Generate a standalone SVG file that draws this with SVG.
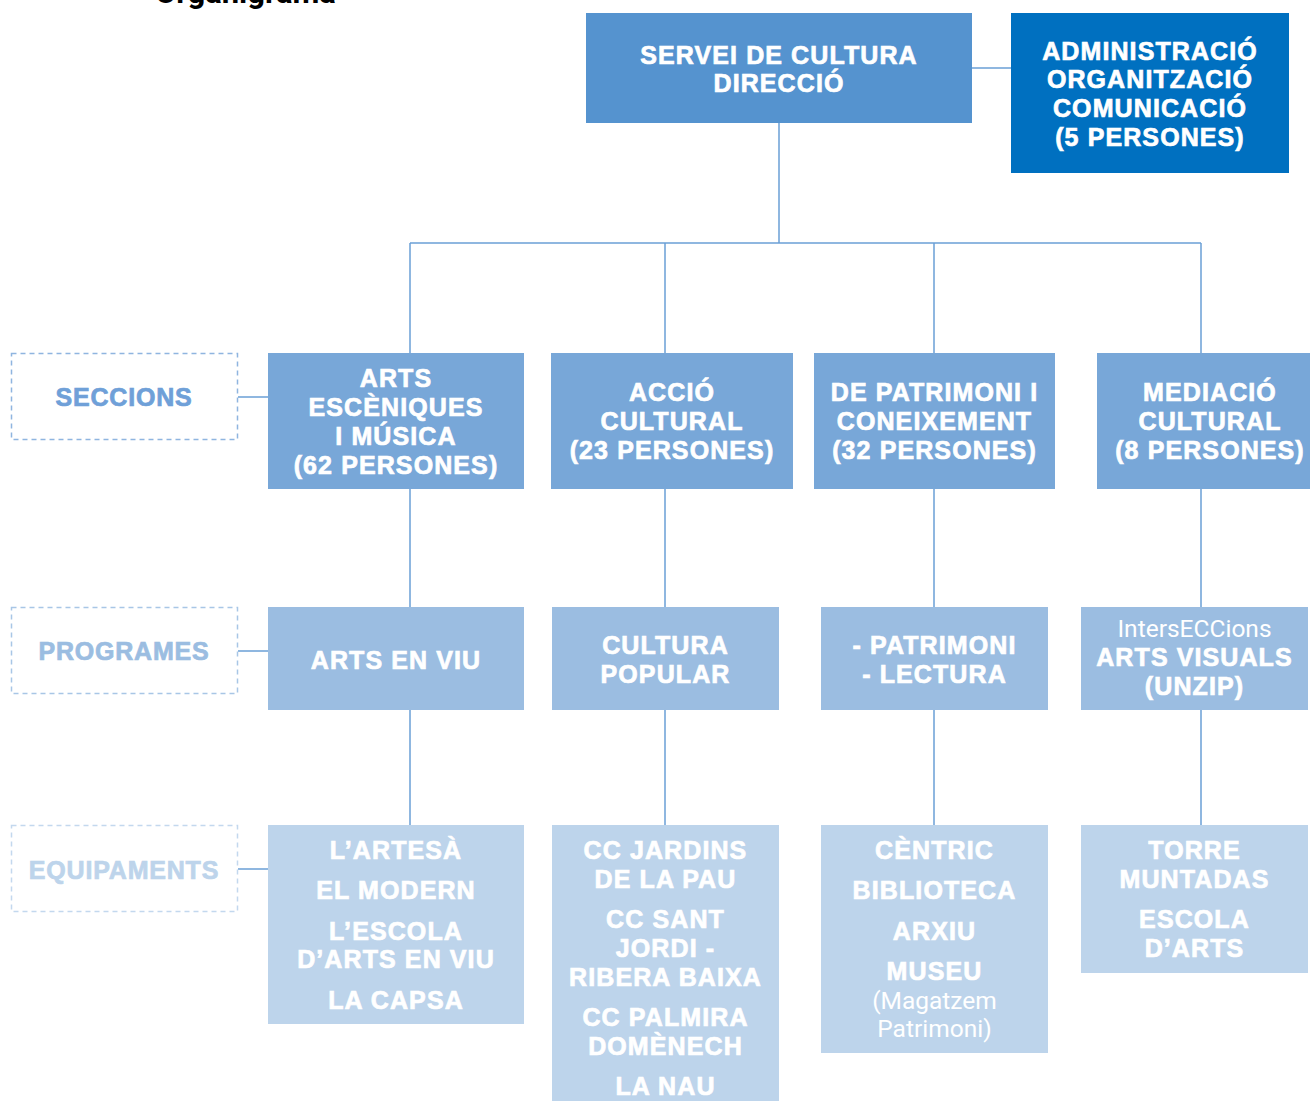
<svg xmlns="http://www.w3.org/2000/svg" width="1310" height="1101" viewBox="0 0 1310 1101">
<style>
.t{font-family:"Liberation Sans",Arial,sans-serif;font-weight:bold;font-size:25px;fill:#fff;stroke:#fff;stroke-width:0.7px;text-anchor:middle;letter-spacing:1.1px}
.r{font-family:Roboto,"Liberation Sans",sans-serif;font-weight:normal;font-size:24.5px;fill:#fff;text-anchor:middle}
.lbl{font-family:"Liberation Sans",Arial,sans-serif;font-weight:bold;font-size:25px;text-anchor:middle;letter-spacing:0.8px;stroke-width:0.7px}
.c{stroke:#6a9fd6;stroke-width:1.5;fill:none}
.dash{fill:#fff;stroke-width:1.5;stroke-dasharray:5 4}
.s1{fill:#78a7d8}.s2{fill:#9bbde1}.s3{fill:#bdd4eb}
</style>
<rect width="1310" height="1101" fill="#fff"/>
<text x="155" y="3" font-family="Roboto,Liberation Sans,Arial,sans-serif" font-weight="bold" font-size="31" fill="#000">Organigrama</text>
<g id="connectors">
<line class="c" x1="972" y1="68" x2="1011" y2="68"/>
<line class="c" x1="779" y1="123" x2="779" y2="243"/>
<line class="c" x1="410" y1="243" x2="1201" y2="243"/>
<line class="c" x1="410" y1="243" x2="410" y2="353"/>
<line class="c" x1="665" y1="243" x2="665" y2="353"/>
<line class="c" x1="934" y1="243" x2="934" y2="353"/>
<line class="c" x1="1201" y1="243" x2="1201" y2="353"/>
<line class="c" x1="410" y1="489" x2="410" y2="607"/>
<line class="c" x1="665" y1="489" x2="665" y2="607"/>
<line class="c" x1="934" y1="489" x2="934" y2="607"/>
<line class="c" x1="1201" y1="489" x2="1201" y2="607"/>
<line class="c" x1="410" y1="710" x2="410" y2="825"/>
<line class="c" x1="665" y1="710" x2="665" y2="825"/>
<line class="c" x1="934" y1="710" x2="934" y2="825"/>
<line class="c" x1="1201" y1="710" x2="1201" y2="825"/>
<line class="c" x1="238" y1="397" x2="268" y2="397"/>
<line class="c" x1="238" y1="651" x2="268" y2="651"/>
<line class="c" x1="238" y1="869" x2="268" y2="869"/>
</g>
<g id="direccio">
<rect x="586" y="13" width="386" height="110" fill="#5593cf"/>
<text class="t" x="779" y="64">SERVEI DE CULTURA</text>
<text class="t" x="779" y="92">DIRECCIÓ</text>
</g>
<g id="admin">
<rect x="1011" y="13" width="278" height="160" fill="#0070c0"/>
<text class="t" x="1150" y="60">ADMINISTRACIÓ</text>
<text class="t" x="1150" y="88">ORGANITZACIÓ</text>
<text class="t" x="1150" y="117">COMUNICACIÓ</text>
<text class="t" x="1150" y="146">(5 PERSONES)</text>
</g>
<g id="label-seccions">
<rect class="dash" x="11.5" y="353.5" width="226" height="86" stroke="#8fb5e0"/>
<text class="lbl" x="124" y="406" fill="#6fa0d8" stroke="#6fa0d8">SECCIONS</text>
</g>
<g id="label-programes">
<rect class="dash" x="11.5" y="607.5" width="226" height="86" stroke="#a8c6e6"/>
<text class="lbl" x="124" y="660" fill="#9bbde1" stroke="#9bbde1">PROGRAMES</text>
</g>
<g id="label-equipaments">
<rect class="dash" x="11.5" y="825.5" width="226" height="86" stroke="#c3d8ee"/>
<text class="lbl" x="124" y="879" fill="#bdd4eb" stroke="#bdd4eb">EQUIPAMENTS</text>
</g>
<g id="sec-arts">
<rect class="s1" x="268" y="353" width="256" height="136"/>
<text class="t" x="396" y="387">ARTS</text>
<text class="t" x="396" y="416">ESCÈNIQUES</text>
<text class="t" x="396" y="445">I MÚSICA</text>
<text class="t" x="396" y="474">(62 PERSONES)</text>
</g>
<g id="sec-accio">
<rect class="s1" x="551" y="353" width="242" height="136"/>
<text class="t" x="672" y="401">ACCIÓ</text>
<text class="t" x="672" y="430">CULTURAL</text>
<text class="t" x="672" y="459">(23 PERSONES)</text>
</g>
<g id="sec-patrimoni">
<rect class="s1" x="814" y="353" width="241" height="136"/>
<text class="t" x="934.5" y="401">DE PATRIMONI I</text>
<text class="t" x="934.5" y="430">CONEIXEMENT</text>
<text class="t" x="934.5" y="459">(32 PERSONES)</text>
</g>
<g id="sec-mediacio">
<rect class="s1" x="1097" y="353" width="213" height="136"/>
<text class="t" x="1210" y="401">MEDIACIÓ</text>
<text class="t" x="1210" y="430">CULTURAL</text>
<text class="t" x="1210" y="459">(8 PERSONES)</text>
</g>
<g id="prog-arts">
<rect class="s2" x="268" y="607" width="256" height="103"/>
<text class="t" x="396" y="669">ARTS EN VIU</text>
</g>
<g id="prog-cultura">
<rect class="s2" x="552" y="607" width="227" height="103"/>
<text class="t" x="665.5" y="654">CULTURA</text>
<text class="t" x="665.5" y="683">POPULAR</text>
</g>
<g id="prog-patrimoni">
<rect class="s2" x="821" y="607" width="227" height="103"/>
<text class="t" x="934.5" y="654">- PATRIMONI</text>
<text class="t" x="934.5" y="683">- LECTURA</text>
</g>
<g id="prog-intersec">
<rect class="s2" x="1081" y="607" width="227" height="103"/>
<text class="r" x="1194.5" y="637">IntersECCions</text>
<text class="t" x="1194.5" y="666">ARTS VISUALS</text>
<text class="t" x="1194.5" y="695">(UNZIP)</text>
</g>
<g id="eq-arts">
<rect class="s3" x="268" y="825" width="256" height="199"/>
<text class="t" x="396" y="859">L’ARTESÀ</text>
<text class="t" x="396" y="899">EL MODERN</text>
<text class="t" x="396" y="940">L’ESCOLA</text>
<text class="t" x="396" y="968">D’ARTS EN VIU</text>
<text class="t" x="396" y="1009">LA CAPSA</text>
</g>
<g id="eq-cc">
<rect class="s3" x="552" y="825" width="227" height="276"/>
<text class="t" x="665.5" y="859">CC JARDINS</text>
<text class="t" x="665.5" y="888">DE LA PAU</text>
<text class="t" x="665.5" y="928">CC SANT</text>
<text class="t" x="665.5" y="957">JORDI -</text>
<text class="t" x="665.5" y="986">RIBERA BAIXA</text>
<text class="t" x="665.5" y="1026">CC PALMIRA</text>
<text class="t" x="665.5" y="1055">DOMÈNECH</text>
<text class="t" x="665.5" y="1095">LA NAU</text>
</g>
<g id="eq-centric">
<rect class="s3" x="821" y="825" width="227" height="228"/>
<text class="t" x="934.5" y="859">CÈNTRIC</text>
<text class="t" x="934.5" y="899">BIBLIOTECA</text>
<text class="t" x="934.5" y="940">ARXIU</text>
<text class="t" x="934.5" y="980">MUSEU</text>
<text class="r" x="934.5" y="1009">(Magatzem</text>
<text class="r" x="934.5" y="1037">Patrimoni)</text>
</g>
<g id="eq-torre">
<rect class="s3" x="1081" y="825" width="227" height="148"/>
<text class="t" x="1194.5" y="859">TORRE</text>
<text class="t" x="1194.5" y="888">MUNTADAS</text>
<text class="t" x="1194.5" y="928">ESCOLA</text>
<text class="t" x="1194.5" y="957">D’ARTS</text>
</g>
</svg>
